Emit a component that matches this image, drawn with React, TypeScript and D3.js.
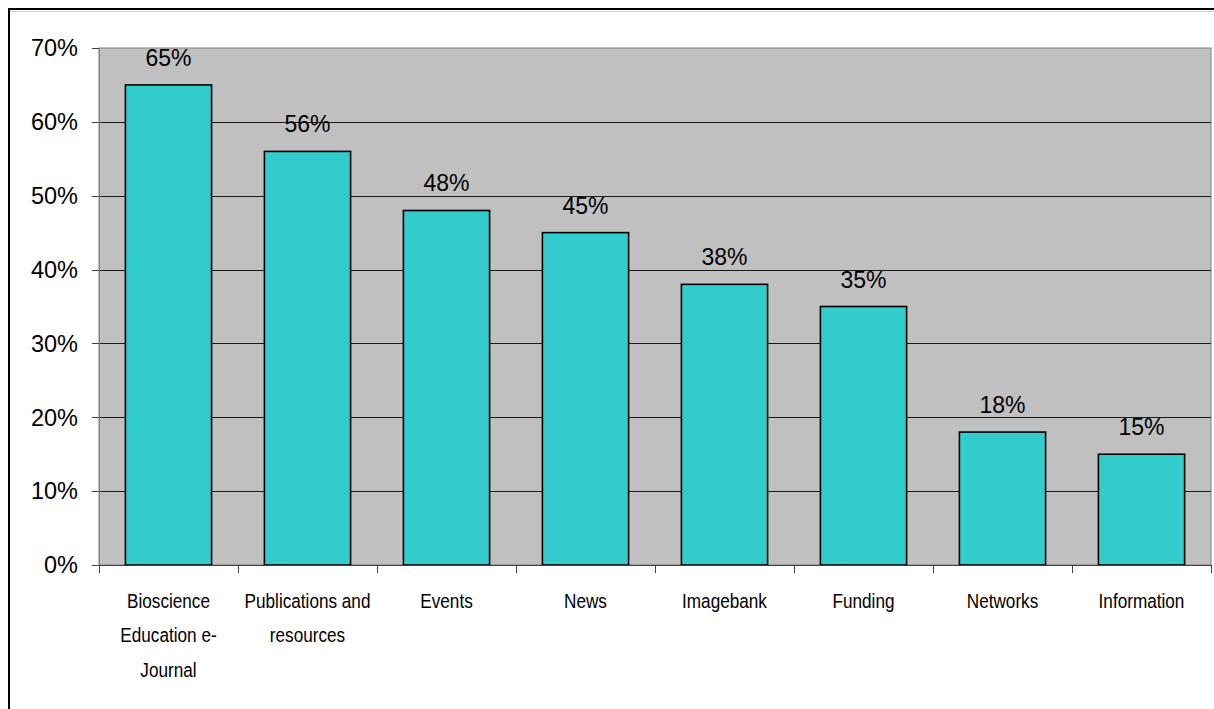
import React from "react";
import * as d3 from "d3";

const categories: string[][] = [
  ["Bioscience", "Education e-", "Journal"],
  ["Publications and", "resources"],
  ["Events"],
  ["News"],
  ["Imagebank"],
  ["Funding"],
  ["Networks"],
  ["Information"],
];
const values: number[] = [65, 56, 48, 45, 38, 35, 18, 15];
const yTicks: number[] = [0, 10, 20, 30, 40, 50, 60, 70];

const W = 1214;
const H = 709;
const plot = { left: 99, right: 1211, top: 48, bottom: 565 };
const FONT = "'Liberation Sans', Arial, Helvetica, sans-serif";

export default function App() {
  const keys = categories.map((_, i) => String(i));
  const x = d3
    .scaleBand<string>()
    .domain(keys)
    .range([plot.left, plot.right])
    .paddingInner(0.38)
    .paddingOuter(0.19);
  const step = (plot.right - plot.left) / categories.length;
  const y = d3.scaleLinear().domain([0, 70]).range([plot.bottom, plot.top]);

  return (
    <svg
      width={W}
      height={H}
      style={{ position: "fixed", left: 0, top: 0, background: "#fff" }}
    >
      {/* outer chart border (extends past the viewport) */}
      <rect x={9} y={9} width={1400} height={900} fill="#fff" stroke="#000" strokeWidth={2} />
      <line x1={10} x2={1400} y1={11.5} y2={11.5} stroke="#d0d0d0" strokeWidth={1} />

      {/* plot area */}
      <rect
        x={plot.left}
        y={plot.top}
        width={plot.right - plot.left}
        height={plot.bottom - plot.top}
        fill="#C0C0C0"
        stroke="#808080"
        strokeWidth={1}
      />
      {yTicks
        .filter((t) => t > 0 && t < 70)
        .map((t) => (
          <line
            key={"g" + t}
            x1={plot.left}
            x2={plot.right}
            y1={Math.round(y(t)) + 0.5}
            y2={Math.round(y(t)) + 0.5}
            stroke="#1a1a1a"
            strokeWidth={1}
          />
        ))}

      {/* bars */}
      {values.map((v, i) => (
        <rect
          key={"b" + i}
          x={x(String(i))!}
          y={y(v)}
          width={x.bandwidth()}
          height={plot.bottom - y(v)}
          fill="#33CCCC"
          stroke="#000"
          strokeWidth={1.6}
        />
      ))}

      {/* data labels */}
      {values.map((v, i) => (
        <text
          key={"l" + i}
          x={x(String(i))! + x.bandwidth() / 2}
          y={y(v) - 19}
          textAnchor="middle"
          fontFamily={FONT}
          fontSize={23}
          fill="#000"
        >
          {v}%
        </text>
      ))}

      {/* y axis */}
      <line x1={plot.left + 0.5} x2={plot.left + 0.5} y1={plot.top} y2={plot.bottom} stroke="#808080" />
      {yTicks.map((t) => (
        <g key={"y" + t}>
          <line
            x1={plot.left - 7}
            x2={plot.left}
            y1={Math.round(y(t)) + 0.5}
            y2={Math.round(y(t)) + 0.5}
            stroke="#404040"
          />
          <text
            x={78}
            y={y(t)}
            dy="0.35em"
            textAnchor="end"
            fontFamily={FONT}
            fontSize={23.5}
            fill="#000"
          >
            {t}%
          </text>
        </g>
      ))}

      {/* x axis */}
      <line x1={plot.left} x2={plot.right} y1={plot.bottom + 0.5} y2={plot.bottom + 0.5} stroke="#404040" />
      {d3.range(categories.length + 1).map((i) => (
        <line
          key={"xt" + i}
          x1={Math.round(plot.left + i * step) + 0.5}
          x2={Math.round(plot.left + i * step) + 0.5}
          y1={plot.bottom}
          y2={plot.bottom + 8}
          stroke="#404040"
        />
      ))}
      {categories.map((lines, i) => {
        const cx = x(String(i))! + x.bandwidth() / 2;
        return (
          <g key={"xl" + i} transform={`translate(${cx},0) scale(0.88,1)`}>
            {lines.map((ln, j) => (
              <text
                key={j}
                x={0}
                y={608 + j * 34.5}
                textAnchor="middle"
                fontFamily={FONT}
                fontSize={19.5}
                fill="#000"
              >
                {ln}
              </text>
            ))}
          </g>
        );
      })}
    </svg>
  );
}
